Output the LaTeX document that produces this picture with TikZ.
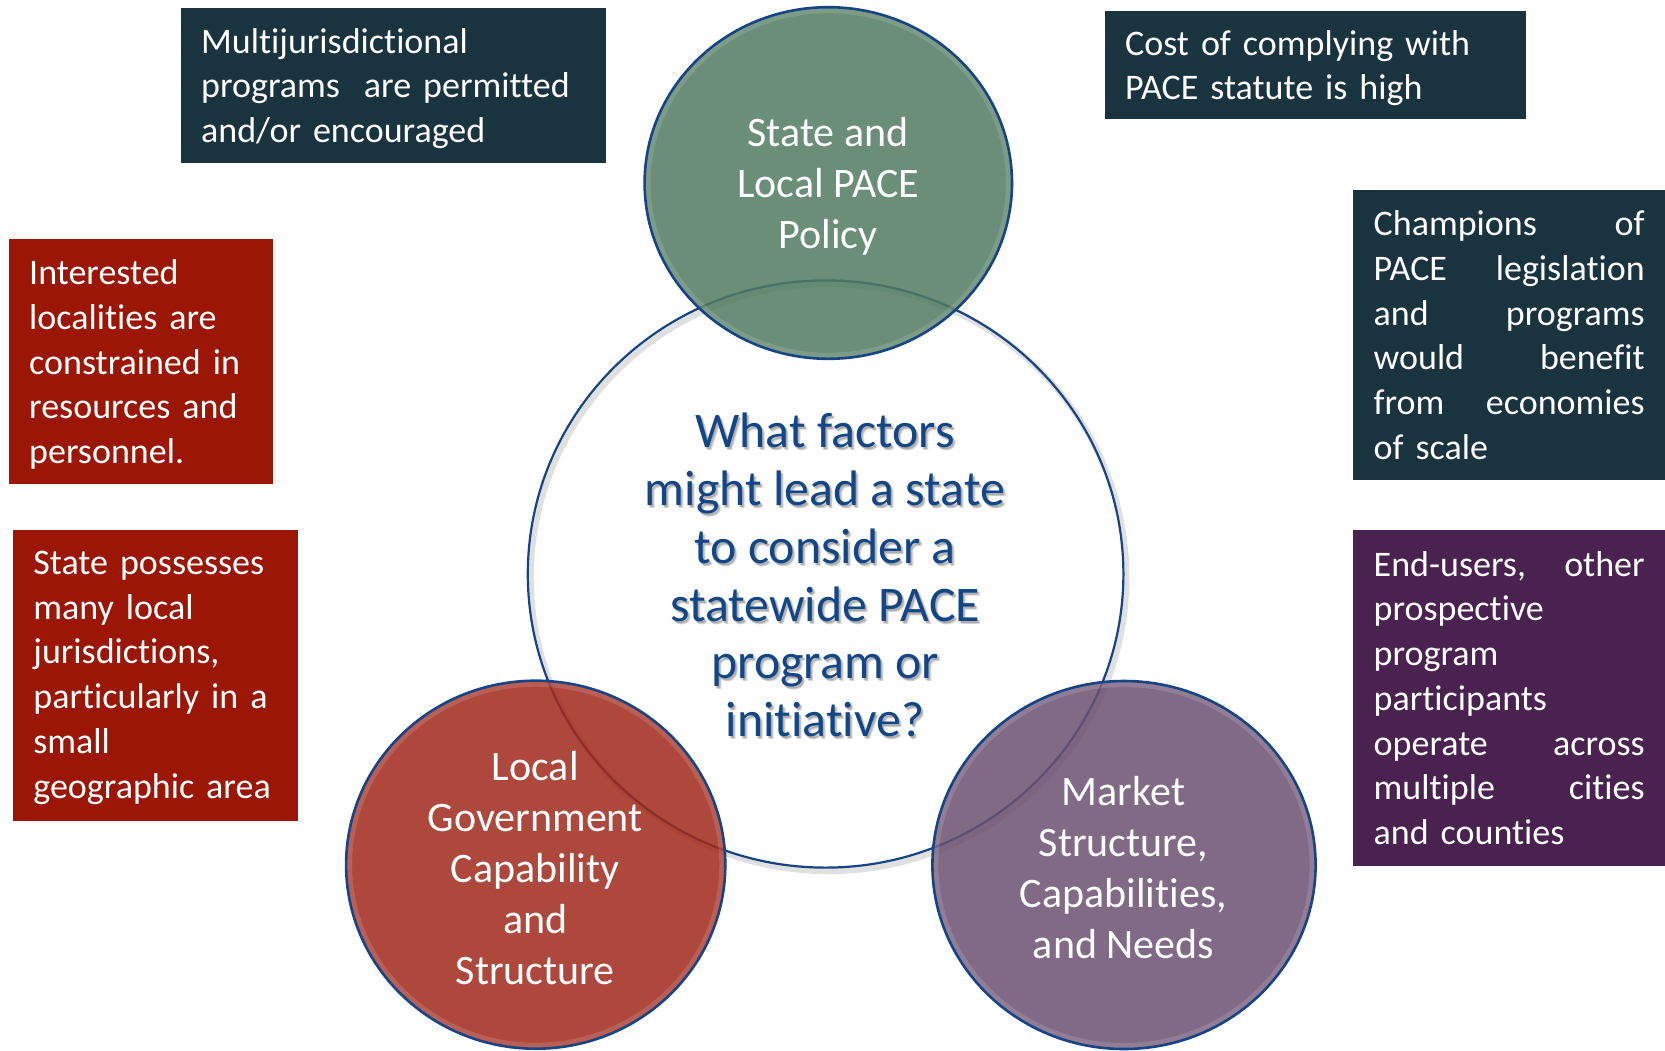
\documentclass[tikz,border=0pt]{standalone}
\usepackage{fontspec}
\setmainfont[Ligatures=NoCommon]{Carlito}
\usetikzlibrary{shapes.geometric}

\definecolor{boxteal}{RGB}{25,51,63}
\definecolor{boxred}{RGB}{155,22,5}
\definecolor{boxpurple}{RGB}{74,34,80}
\definecolor{ringblue}{RGB}{22,68,132}
\definecolor{qblue}{RGB}{18,70,135}
\definecolor{policygreen}{RGB}{80,123,96}
\definecolor{govred}{RGB}{162,41,26}
\definecolor{marketpurple}{RGB}{108,80,113}

\begin{document}
\begin{tikzpicture}[x=1pt,y=-1pt,
  notebox/.style={anchor=north west, inner sep=0pt},
  note/.style={anchor=north west, inner xsep=20.5pt, inner ysep=0pt,
    align=left, text=white, font=\fontsize{36}{44.7}\selectfont},
  factor/.style={ellipse, inner sep=0pt, fill opacity=0.85},
  rim/.style={white, opacity=0.13, line width=12pt},
  outline/.style={draw=ringblue, line width=2.6pt},
  factortext/.style={align=center, text=white, inner sep=0pt,
    font=\fontsize{42}{51}\selectfont},
  question/.style={align=center, inner sep=0pt,
    font=\fontsize{49.8}{57.8}\selectfont}
]
\useasboundingbox (0,0) rectangle (1665,1050);
\fill[white] (0,0) rectangle (1665,1050);

% soft shadow of the central circle
\node (coreshadow) [ellipse, inner sep=0pt, minimum width=595.6pt, minimum height=587.2pt,
  draw=black, draw opacity=0.12, line width=6pt] at (828.6,577.5) {};
% central circle
\node (core) [ellipse, inner sep=0pt, minimum width=595.6pt, minimum height=587.2pt,
  draw=ringblue, line width=2.2pt] at (825.6,574) {};

% three factor circles, translucent over the central ring
\node (policy) [factor, fill=policygreen, minimum width=367.4pt, minimum height=351.6pt] at (828.3,183) {};
\node (gov) [factor, fill=govred, minimum width=379.2pt, minimum height=368pt] at (535.7,864.7) {};
\node (market) [factor, fill=marketpurple, minimum width=383.2pt, minimum height=368pt] at (1124,865) {};

% light inner rim and blue outline of each factor circle
\foreach \c/\rx/\ry in {policy/183.7/175.8, gov/189.6/184, market/191.6/184} {
  \begin{scope}
    \clip (\c.center) ellipse [x radius=\rx pt, y radius=\ry pt];
    \draw[rim] (\c.center) ellipse [x radius=\rx pt, y radius=\ry pt];
  \end{scope}
  \draw[outline] (\c.center) ellipse [x radius=\rx pt, y radius=\ry pt];
}

\node (policytext) [factortext] at (828,186) {State and\\Local PACE\\Policy};
\node (govtext) [factortext] at (535.2,868) {Local\\Government\\Capability\\and\\Structure};
\node (markettext) [factortext] at (1123.5,867.5) {Market\\Structure,\\Capabilities,\\and Needs};

% central question with a soft drop shadow
\foreach \dx/\dy [count=\k] in {1/2,2/2,2/3,3/3} {
  \node (qshadow\k) [question, text=black, text opacity=0.09] at (825+\dx,575+\dy)
    {What factors\\might lead a state\\to consider a\\statewide PACE\\program or\\initiative?};
}
\node (question) [question, text=qblue] at (825,575)
  {What factors\\might lead a state\\to consider a\\statewide PACE\\program or\\initiative?};

% explanatory notes: coloured panel, then its text
\node (multi) [notebox, fill=boxteal, minimum width=424.8pt, minimum height=155.1pt] at (180.5,7.4) {};
\node (multitext) [note, text width=383.8pt, minimum height=155.1pt] at (180.5,10.6)
  {Multijurisdictional\\programs\ \ are permitted\\and/or encouraged};

\node (cost) [notebox, fill=boxteal, minimum width=421.6pt, minimum height=108.4pt] at (1104.4,10.6) {};
\node (costtext) [note, text width=380.6pt, minimum height=108.4pt] at (1104.4,13.8)
  {Cost of complying with\\PACE statute is high};

\node (champions) [notebox, fill=boxteal, minimum width=312pt, minimum height=290pt] at (1353,190) {};
\node (championstext) [note, text width=271pt, minimum height=290pt] at (1353,190)
  {Champions\hfill of\\PACE\hfill legislation\\and\hfill programs\\would\hfill benefit\\from\hfill economies\\of scale};

\node (interested) [notebox, fill=boxred, minimum width=264.5pt, minimum height=245pt] at (8.5,239) {};
\node (interestedtext) [note, text width=223.5pt, minimum height=245pt] at (8.5,241.7)
  {Interested\\localities are\\constrained in\\resources and\\personnel.};

\node (possesses) [notebox, fill=boxred, minimum width=284.6pt, minimum height=290.8pt] at (12.7,530) {};
\node (possessestext) [note, text width=243.6pt, minimum height=290.8pt] at (12.7,532.1)
  {State possesses\\many local\\jurisdictions,\\particularly in a\\small\\geographic area};

\node (endusers) [notebox, fill=boxpurple, minimum width=312pt, minimum height=335.5pt] at (1353,530) {};
\node (enduserstext) [note, text width=271pt, minimum height=335.5pt] at (1353,530)
  {End-users,\hfill other\\prospective\\program\\participants\\operate\hfill across\\multiple\hfill cities\\and counties};
\end{tikzpicture}
\end{document}
